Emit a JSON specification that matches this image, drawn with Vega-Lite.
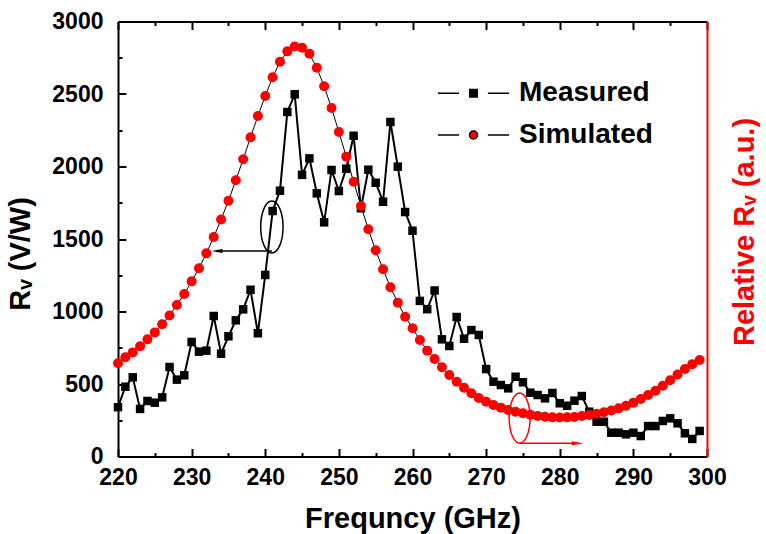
{
  "$schema": "https://vega.github.io/schema/vega-lite/v6.json",
  "width": 589,
  "height": 435,
  "autosize": {"type": "none"},
  "padding": {"left": 118, "top": 21.5, "right": 59, "bottom": 77.5},
  "config": {"view": {"stroke": null}, "font": "Liberation Sans", "axis": {"grid": false}},
  "datasets": {
    "rv": [
      {"series": "Measured", "f": 220, "rv": 340}, {"series": "Measured", "f": 221, "rv": 481}, {"series": "Measured", "f": 222, "rv": 546}, {"series": "Measured", "f": 223, "rv": 328}, {"series": "Measured", "f": 224, "rv": 383}, {"series": "Measured", "f": 225, "rv": 371}, {"series": "Measured", "f": 226, "rv": 408}, {"series": "Measured", "f": 227, "rv": 617}, {"series": "Measured", "f": 228, "rv": 530}, {"series": "Measured", "f": 229, "rv": 560},
      {"series": "Measured", "f": 230, "rv": 790}, {"series": "Measured", "f": 231, "rv": 723}, {"series": "Measured", "f": 232, "rv": 730}, {"series": "Measured", "f": 233, "rv": 969}, {"series": "Measured", "f": 234, "rv": 709}, {"series": "Measured", "f": 235, "rv": 829}, {"series": "Measured", "f": 236, "rv": 939}, {"series": "Measured", "f": 237, "rv": 1015}, {"series": "Measured", "f": 238, "rv": 1150}, {"series": "Measured", "f": 239, "rv": 850},
      {"series": "Measured", "f": 240, "rv": 1252}, {"series": "Measured", "f": 241, "rv": 1693}, {"series": "Measured", "f": 242, "rv": 1833}, {"series": "Measured", "f": 243, "rv": 2376}, {"series": "Measured", "f": 244, "rv": 2498}, {"series": "Measured", "f": 245, "rv": 1942}, {"series": "Measured", "f": 246, "rv": 2056}, {"series": "Measured", "f": 247, "rv": 1815}, {"series": "Measured", "f": 248, "rv": 1615}, {"series": "Measured", "f": 249, "rv": 1976},
      {"series": "Measured", "f": 250, "rv": 1831}, {"series": "Measured", "f": 251, "rv": 1985}, {"series": "Measured", "f": 252, "rv": 2212}, {"series": "Measured", "f": 253, "rv": 1712}, {"series": "Measured", "f": 254, "rv": 1978}, {"series": "Measured", "f": 255, "rv": 1888}, {"series": "Measured", "f": 256, "rv": 1757}, {"series": "Measured", "f": 257, "rv": 2307}, {"series": "Measured", "f": 258, "rv": 1999}, {"series": "Measured", "f": 259, "rv": 1686},
      {"series": "Measured", "f": 260, "rv": 1557}, {"series": "Measured", "f": 261, "rv": 1073}, {"series": "Measured", "f": 262, "rv": 1016}, {"series": "Measured", "f": 263, "rv": 1145}, {"series": "Measured", "f": 264, "rv": 808}, {"series": "Measured", "f": 265, "rv": 762}, {"series": "Measured", "f": 266, "rv": 962}, {"series": "Measured", "f": 267, "rv": 812}, {"series": "Measured", "f": 268, "rv": 872}, {"series": "Measured", "f": 269, "rv": 838},
      {"series": "Measured", "f": 270, "rv": 603}, {"series": "Measured", "f": 271, "rv": 516}, {"series": "Measured", "f": 272, "rv": 493}, {"series": "Measured", "f": 273, "rv": 470}, {"series": "Measured", "f": 274, "rv": 550}, {"series": "Measured", "f": 275, "rv": 512}, {"series": "Measured", "f": 276, "rv": 440}, {"series": "Measured", "f": 277, "rv": 424}, {"series": "Measured", "f": 278, "rv": 401}, {"series": "Measured", "f": 279, "rv": 438},
      {"series": "Measured", "f": 280, "rv": 367}, {"series": "Measured", "f": 281, "rv": 350}, {"series": "Measured", "f": 282, "rv": 385}, {"series": "Measured", "f": 283, "rv": 417}, {"series": "Measured", "f": 284, "rv": 309}, {"series": "Measured", "f": 285, "rv": 240}, {"series": "Measured", "f": 286, "rv": 240}, {"series": "Measured", "f": 287, "rv": 164}, {"series": "Measured", "f": 288, "rv": 164}, {"series": "Measured", "f": 289, "rv": 153},
      {"series": "Measured", "f": 290, "rv": 164}, {"series": "Measured", "f": 291, "rv": 141}, {"series": "Measured", "f": 292, "rv": 210}, {"series": "Measured", "f": 293, "rv": 210}, {"series": "Measured", "f": 294, "rv": 245}, {"series": "Measured", "f": 295, "rv": 263}, {"series": "Measured", "f": 296, "rv": 229}, {"series": "Measured", "f": 297, "rv": 160}, {"series": "Measured", "f": 298, "rv": 121}, {"series": "Measured", "f": 299, "rv": 176},
      {"series": "Simulated", "f": 220, "rv": 643}, {"series": "Simulated", "f": 221, "rv": 684}, {"series": "Simulated", "f": 222, "rv": 718}, {"series": "Simulated", "f": 223, "rv": 760}, {"series": "Simulated", "f": 224, "rv": 808}, {"series": "Simulated", "f": 225, "rv": 856}, {"series": "Simulated", "f": 226, "rv": 912}, {"series": "Simulated", "f": 227, "rv": 973}, {"series": "Simulated", "f": 228, "rv": 1045}, {"series": "Simulated", "f": 229, "rv": 1121},
      {"series": "Simulated", "f": 230, "rv": 1208}, {"series": "Simulated", "f": 231, "rv": 1298}, {"series": "Simulated", "f": 232, "rv": 1401}, {"series": "Simulated", "f": 233, "rv": 1514}, {"series": "Simulated", "f": 234, "rv": 1634}, {"series": "Simulated", "f": 235, "rv": 1764}, {"series": "Simulated", "f": 236, "rv": 1905}, {"series": "Simulated", "f": 237, "rv": 2050}, {"series": "Simulated", "f": 238, "rv": 2201}, {"series": "Simulated", "f": 239, "rv": 2348},
      {"series": "Simulated", "f": 240, "rv": 2486}, {"series": "Simulated", "f": 241, "rv": 2615}, {"series": "Simulated", "f": 242, "rv": 2722}, {"series": "Simulated", "f": 243, "rv": 2794}, {"series": "Simulated", "f": 244, "rv": 2828}, {"series": "Simulated", "f": 245, "rv": 2819}, {"series": "Simulated", "f": 246, "rv": 2777}, {"series": "Simulated", "f": 247, "rv": 2681}, {"series": "Simulated", "f": 248, "rv": 2554}, {"series": "Simulated", "f": 249, "rv": 2403},
      {"series": "Simulated", "f": 250, "rv": 2238}, {"series": "Simulated", "f": 251, "rv": 2068}, {"series": "Simulated", "f": 252, "rv": 1895}, {"series": "Simulated", "f": 253, "rv": 1728}, {"series": "Simulated", "f": 254, "rv": 1567}, {"series": "Simulated", "f": 255, "rv": 1422}, {"series": "Simulated", "f": 256, "rv": 1291}, {"series": "Simulated", "f": 257, "rv": 1167}, {"series": "Simulated", "f": 258, "rv": 1061}, {"series": "Simulated", "f": 259, "rv": 964},
      {"series": "Simulated", "f": 260, "rv": 884}, {"series": "Simulated", "f": 261, "rv": 803}, {"series": "Simulated", "f": 262, "rv": 730}, {"series": "Simulated", "f": 263, "rv": 672}, {"series": "Simulated", "f": 264, "rv": 615}, {"series": "Simulated", "f": 265, "rv": 562}, {"series": "Simulated", "f": 266, "rv": 516}, {"series": "Simulated", "f": 267, "rv": 474}, {"series": "Simulated", "f": 268, "rv": 436}, {"series": "Simulated", "f": 269, "rv": 404},
      {"series": "Simulated", "f": 270, "rv": 378}, {"series": "Simulated", "f": 271, "rv": 355}, {"series": "Simulated", "f": 272, "rv": 337}, {"series": "Simulated", "f": 273, "rv": 321}, {"series": "Simulated", "f": 274, "rv": 309}, {"series": "Simulated", "f": 275, "rv": 298}, {"series": "Simulated", "f": 276, "rv": 288}, {"series": "Simulated", "f": 277, "rv": 280}, {"series": "Simulated", "f": 278, "rv": 274}, {"series": "Simulated", "f": 279, "rv": 270},
      {"series": "Simulated", "f": 280, "rv": 269}, {"series": "Simulated", "f": 281, "rv": 270}, {"series": "Simulated", "f": 282, "rv": 273}, {"series": "Simulated", "f": 283, "rv": 279}, {"series": "Simulated", "f": 284, "rv": 286}, {"series": "Simulated", "f": 285, "rv": 295}, {"series": "Simulated", "f": 286, "rv": 305}, {"series": "Simulated", "f": 287, "rv": 317}, {"series": "Simulated", "f": 288, "rv": 332}, {"series": "Simulated", "f": 289, "rv": 350},
      {"series": "Simulated", "f": 290, "rv": 371}, {"series": "Simulated", "f": 291, "rv": 396}, {"series": "Simulated", "f": 292, "rv": 424}, {"series": "Simulated", "f": 293, "rv": 454}, {"series": "Simulated", "f": 294, "rv": 488}, {"series": "Simulated", "f": 295, "rv": 526}, {"series": "Simulated", "f": 296, "rv": 566}, {"series": "Simulated", "f": 297, "rv": 604}, {"series": "Simulated", "f": 298, "rv": 637}, {"series": "Simulated", "f": 299, "rv": 666}
    ]
  },
  "data": {"name": "rv"},
  "layer": [
    {
      "transform": [{"filter": "datum.series === 'Measured'"}],
      "mark": {"type": "line", "color": "black", "strokeWidth": 2},
      "encoding": {
        "x": {
          "field": "f", "type": "quantitative",
          "scale": {"domain": [220, 300], "nice": false, "zero": false},
          "axis": {
            "orient": "bottom",
            "values": [220, 225, 230, 235, 240, 245, 250, 255, 260, 265, 270, 275, 280, 285, 290, 295, 300],
            "labelExpr": "datum.value % 10 === 0 ? datum.label : ''",
            "tickSize": {"condition": {"test": "datum.value % 10 === 0", "value": -8}, "value": -4},
            "tickWidth": 2, "tickColor": "black", "domainColor": "black", "domainWidth": 2,
            "labelFont": "Liberation Sans", "labelFontWeight": "bold", "labelFontSize": 23, "labelColor": "black",
            "labelPadding": 18, "labelFlush": false, "labelOverlap": false,
            "title": "Frequncy (GHz)", "titleFont": "Liberation Sans", "titleFontSize": 29, "titleFontWeight": "bold", "titleColor": "black",
            "titleBaseline": "alphabetic", "titleY": 70.5, "titleX": 294.5, "titleAlign": "center"
          }
        },
        "y": {
          "field": "rv", "type": "quantitative",
          "scale": {"domain": [0, 3000], "nice": false},
          "axis": {
            "orient": "left",
            "values": [0, 250, 500, 750, 1000, 1250, 1500, 1750, 2000, 2250, 2500, 2750, 3000],
            "labelExpr": "datum.value % 500 === 0 ? datum.label : ''",
            "format": "d",
            "tickSize": {"condition": {"test": "datum.value % 500 === 0", "value": -8}, "value": -4},
            "tickWidth": 2, "tickColor": "black", "domainColor": "black", "domainWidth": 2,
            "labelFont": "Liberation Sans", "labelFontWeight": "bold", "labelFontSize": 23, "labelColor": "black",
            "labelPadding": 23, "labelFlush": false, "labelOverlap": false,
            "title": "R\u1d65 (V/W)", "titleFont": "Liberation Sans", "titleFontSize": 29, "titleFontWeight": "bold", "titleColor": "black",
            "titleAngle": 270, "titleBaseline": "alphabetic", "titleAlign": "center", "titleX": -89, "titleY": 232
          }
        }
      }
    },
    {
      "transform": [{"filter": "datum.series === 'Measured'"}],
      "mark": {"type": "point", "shape": "square", "filled": true, "size": 72, "color": "black", "opacity": 1},
      "encoding": {
        "x": {"field": "f", "type": "quantitative", "scale": {"domain": [220, 300], "nice": false, "zero": false}, "axis": null},
        "y": {"field": "rv", "type": "quantitative", "scale": {"domain": [0, 3000], "nice": false}, "axis": null}
      }
    },
    {
      "transform": [{"filter": "datum.series === 'Simulated'"}],
      "mark": {"type": "line", "color": "black", "strokeWidth": 1},
      "encoding": {
        "x": {
          "field": "f", "type": "quantitative",
          "scale": {"domain": [220, 300], "nice": false, "zero": false},
          "axis": {
            "orient": "top",
            "values": [220, 225, 230, 235, 240, 245, 250, 255, 260, 265, 270, 275, 280, 285, 290, 295, 300],
            "labels": false,
            "tickSize": {"condition": {"test": "datum.value % 10 === 0", "value": -8}, "value": -4},
            "tickWidth": 2, "tickColor": "black", "domainColor": "black", "domainWidth": 2,
            "title": null
          }
        },
        "y": {
          "field": "rv", "type": "quantitative",
          "scale": {"domain": [0, 3000], "nice": false},
          "axis": {
            "orient": "right", "ticks": false, "labels": false,
            "domainColor": "red", "domainWidth": 2,
            "title": "Relative R\u1d65 (a.u.)", "titleFont": "Liberation Sans", "titleFontSize": 29, "titleFontWeight": "bold", "titleColor": "red",
            "titleAngle": 270, "titleBaseline": "alphabetic", "titleAlign": "center", "titleX": 46, "titleY": 210
          }
        }
      }
    },
    {
      "transform": [{"filter": "datum.series === 'Simulated'"}],
      "mark": {"type": "point", "shape": "circle", "filled": true, "size": 100, "color": "red", "opacity": 1},
      "encoding": {
        "x": {"field": "f", "type": "quantitative", "scale": {"domain": [220, 300], "nice": false, "zero": false}, "axis": null},
        "y": {"field": "rv", "type": "quantitative", "scale": {"domain": [0, 3000], "nice": false}, "axis": null}
      }
    },
    {
      "transform": [{"filter": "false"}],
      "mark": {"type": "point", "filled": true, "stroke": "black", "strokeWidth": 1.5, "opacity": 1},
      "encoding": {
        "color": {
          "field": "series", "type": "nominal",
          "scale": {"domain": ["Measured", "Simulated"], "range": ["black", "red"]},
          "legend": {
            "orient": "none", "legendX": 334.5, "legendY": 50.8, "direction": "vertical",
            "title": null, "padding": 0, "symbolSize": 1600, "labelOffset": 24.5, "rowPadding": 6.7,
            "symbolStrokeColor": "black", "symbolStrokeWidth": 1.5,
            "labelFont": "Liberation Sans", "labelFontSize": 28, "labelFontWeight": "bold", "labelColor": "black"
          }
        },
        "shape": {
          "field": "series", "type": "nominal",
          "scale": {
            "domain": ["Measured", "Simulated"],
            "range": [
              "M -1.78 0 L -0.72 0 M 0.72 0 L 1.78 0 M -0.185 -0.185 L 0.185 -0.185 L 0.185 0.185 L -0.185 0.185 Z",
              "M -1.78 0 L -0.72 0 M 0.72 0 L 1.78 0 M 0.2 0 A 0.2 0.2 0 1 1 -0.2 0 A 0.2 0.2 0 1 1 0.2 0 Z"
            ]
          },
          "legend": {
            "orient": "none", "legendX": 334.5, "legendY": 50.8, "direction": "vertical",
            "title": null, "padding": 0, "symbolSize": 1600, "labelOffset": 24.5, "rowPadding": 6.7,
            "symbolStrokeColor": "black", "symbolStrokeWidth": 1.5,
            "labelFont": "Liberation Sans", "labelFontSize": 28, "labelFontWeight": "bold", "labelColor": "black"
          }
        }
      }
    },
    {
      "data": {"values": [{"f": 240.9, "rv": 1583}]},
      "mark": {"type": "point", "shape": "M -0.43 0 A 0.43 1 0 1 0 0.43 0 A 0.43 1 0 1 0 -0.43 0 Z", "size": 2704, "filled": false, "stroke": "black", "strokeWidth": 1.5, "opacity": 1},
      "encoding": {
        "x": {"field": "f", "type": "quantitative", "axis": null},
        "y": {"field": "rv", "type": "quantitative", "axis": null}
      }
    },
    {
      "data": {"values": [{"f": 240.9, "f2": 233.5, "rv": 1417}]},
      "mark": {"type": "rule", "color": "black", "strokeWidth": 1.5},
      "encoding": {
        "x": {"field": "f", "type": "quantitative", "axis": null},
        "x2": {"field": "f2"},
        "y": {"field": "rv", "type": "quantitative", "axis": null}
      }
    },
    {
      "data": {"values": [{"f": 233.45, "rv": 1417}]},
      "mark": {"type": "point", "shape": "M -1 0 L 1 -0.38 L 1 0.38 Z", "size": 120, "filled": true, "color": "black", "opacity": 1},
      "encoding": {
        "x": {"field": "f", "type": "quantitative", "axis": null},
        "y": {"field": "rv", "type": "quantitative", "axis": null}
      }
    },
    {
      "data": {"values": [{"f": 274.55, "rv": 265}]},
      "mark": {"type": "point", "shape": "M -0.42 0 A 0.42 1 0 1 0 0.42 0 A 0.42 1 0 1 0 -0.42 0 Z", "size": 2500, "filled": false, "stroke": "red", "strokeWidth": 1.5, "opacity": 1},
      "encoding": {
        "x": {"field": "f", "type": "quantitative", "axis": null},
        "y": {"field": "rv", "type": "quantitative", "axis": null}
      }
    },
    {
      "data": {"values": [{"f": 274.55, "f2": 282.4, "rv": 91}]},
      "mark": {"type": "rule", "color": "red", "strokeWidth": 1.5},
      "encoding": {
        "x": {"field": "f", "type": "quantitative", "axis": null},
        "x2": {"field": "f2"},
        "y": {"field": "rv", "type": "quantitative", "axis": null}
      }
    },
    {
      "data": {"values": [{"f": 282.4, "rv": 91}]},
      "mark": {"type": "point", "shape": "M 1 0 L -1 -0.38 L -1 0.38 Z", "size": 130, "filled": true, "color": "red", "opacity": 1},
      "encoding": {
        "x": {"field": "f", "type": "quantitative", "axis": null},
        "y": {"field": "rv", "type": "quantitative", "axis": null}
      }
    }
  ],
  "resolve": {"axis": {"x": "independent", "y": "independent"}}
}
